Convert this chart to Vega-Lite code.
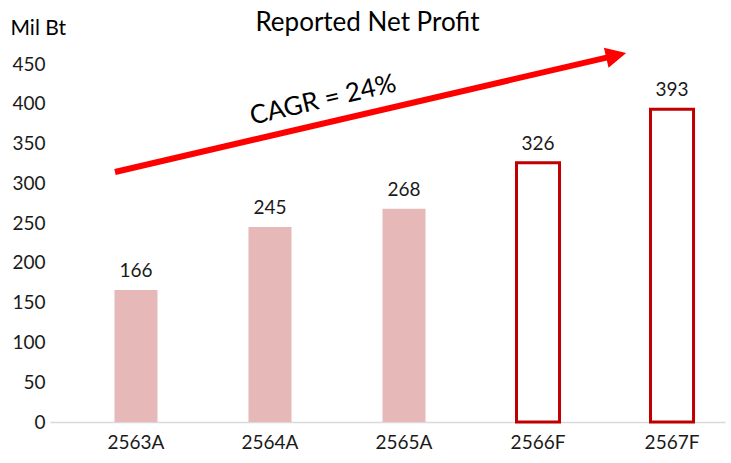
{
  "$schema": "https://vega.github.io/schema/vega-lite/v6.json",
  "width": 675,
  "height": 358,
  "autosize": "none",
  "padding": {"left": 50, "top": 64, "right": 6, "bottom": 41},
  "background": "white",
  "config": {"view": {"stroke": null}, "font": "Lato"},
  "title": {"text": "Reported Net Profit", "fontSize": 26, "fontWeight": "normal", "color": "#000000", "font": "Lato", "anchor": "middle", "frame": "group", "dx": -20, "offset": -19},
  "datasets": {
    "bars": [
      {"year": "2563A", "value": 166, "type": "A"},
      {"year": "2564A", "value": 245, "type": "A"},
      {"year": "2565A", "value": 268, "type": "A"},
      {"year": "2566F", "value": 326, "type": "F"},
      {"year": "2567F", "value": 393, "type": "F"}
    ],
    "arrow": [
      {"x": -0.157, "y": 314.2, "x2": 3.584, "y2": 460.9}
    ],
    "head": [
      {"x": 3.584, "y": 460.9}
    ],
    "note": [
      {"x": 1.396, "y": 404.7, "label": "CAGR = 24%"}
    ]
  },
  "layer": [
    {
      "layer": [
        {
          "data": {"name": "bars"},
          "transform": [{"filter": "datum.type === 'A'"}],
          "mark": {"type": "bar", "color": "#E6B8B7"},
          "encoding": {
            "x": {"field": "year", "type": "nominal", "sort": null},
            "y": {"field": "value", "type": "quantitative"}
          }
        },
        {
          "data": {"name": "bars"},
          "transform": [{"filter": "datum.type === 'F'"}],
          "mark": {"type": "bar", "fill": "white", "stroke": "#C00000", "strokeWidth": 3},
          "encoding": {
            "x": {"field": "year", "type": "nominal", "sort": null},
            "y": {"field": "value", "type": "quantitative"}
          }
        },
        {
          "data": {"name": "bars"},
          "mark": {"type": "text", "baseline": "bottom", "dy": -9, "fontSize": 19, "color": "#1a1a1a", "font": "Lato"},
          "encoding": {
            "x": {"field": "year", "type": "nominal", "sort": null},
            "y": {"field": "value", "type": "quantitative"},
            "text": {"field": "value", "type": "quantitative"}
          }
        }
      ],
      "encoding": {
        "x": {
          "field": "year", "type": "nominal", "sort": null,
          "scale": {"paddingInner": 0.679, "paddingOuter": 0.358, "align": 0.672},
          "axis": {"title": null, "labelAngle": 0, "labelFontSize": 19, "labelColor": "#1a1a1a", "labelFont": "Lato", "ticks": false, "labelPadding": 11, "domainColor": "#d9d9d9", "domainWidth": 1.5}
        },
        "y": {
          "field": "value", "type": "quantitative",
          "scale": {"domain": [0, 450], "nice": false},
          "axis": {"values": [0, 50, 100, 150, 200, 250, 300, 350, 400, 450], "labelOverlap": false, "grid": false, "domain": false, "ticks": false, "labelFontSize": 19, "labelColor": "#1a1a1a", "labelFont": "Lato", "labelPadding": 5,
            "title": "Mil Bt", "titleAngle": 0, "titleAlign": "left", "titleBaseline": "middle", "titleX": -40, "titleY": -36, "titleFontSize": 21, "titleFontWeight": "normal", "titleColor": "#000000", "titleFont": "Lato"}
        }
      }
    },
    {
      "layer": [
        {
          "data": {"name": "arrow"},
          "mark": {"type": "rule", "color": "#FF0000", "strokeWidth": 6, "clip": false},
          "encoding": {
            "x": {"field": "x", "type": "quantitative"},
            "y": {"field": "y", "type": "quantitative"},
            "x2": {"field": "x2"},
            "y2": {"field": "y2"}
          }
        },
        {
          "data": {"name": "head"},
          "mark": {"type": "point", "shape": "M1,0L-1,-1L-1,1Z", "filled": true, "color": "#FF0000", "opacity": 1, "size": 420, "angle": 346.9, "clip": false},
          "encoding": {
            "x": {"field": "x", "type": "quantitative"},
            "y": {"field": "y", "type": "quantitative"}
          }
        },
        {
          "data": {"name": "note"},
          "mark": {"type": "text", "fontSize": 26, "angle": 346.9, "color": "#000000", "font": "Lato", "align": "center", "baseline": "middle", "clip": false},
          "encoding": {
            "x": {"field": "x", "type": "quantitative"},
            "y": {"field": "y", "type": "quantitative"},
            "text": {"field": "label"}
          }
        }
      ],
      "encoding": {
        "x": {"field": "x", "type": "quantitative", "scale": {"domain": [-0.642, 4.396], "nice": false, "zero": false}, "axis": null},
        "y": {"field": "y", "type": "quantitative",
          "axis": {"values": [0, 50, 100, 150, 200, 250, 300, 350, 400, 450], "labelOverlap": false, "grid": false, "domain": false, "ticks": false, "labelFontSize": 19, "labelColor": "#1a1a1a", "labelFont": "Lato", "labelPadding": 5,
            "title": "Mil Bt", "titleAngle": 0, "titleAlign": "left", "titleBaseline": "middle", "titleX": -40, "titleY": -36, "titleFontSize": 21, "titleFontWeight": "normal", "titleColor": "#000000", "titleFont": "Lato"}}
      }
    }
  ],
  "resolve": {"scale": {"x": "independent"}, "axis": {"x": "independent"}}
}
